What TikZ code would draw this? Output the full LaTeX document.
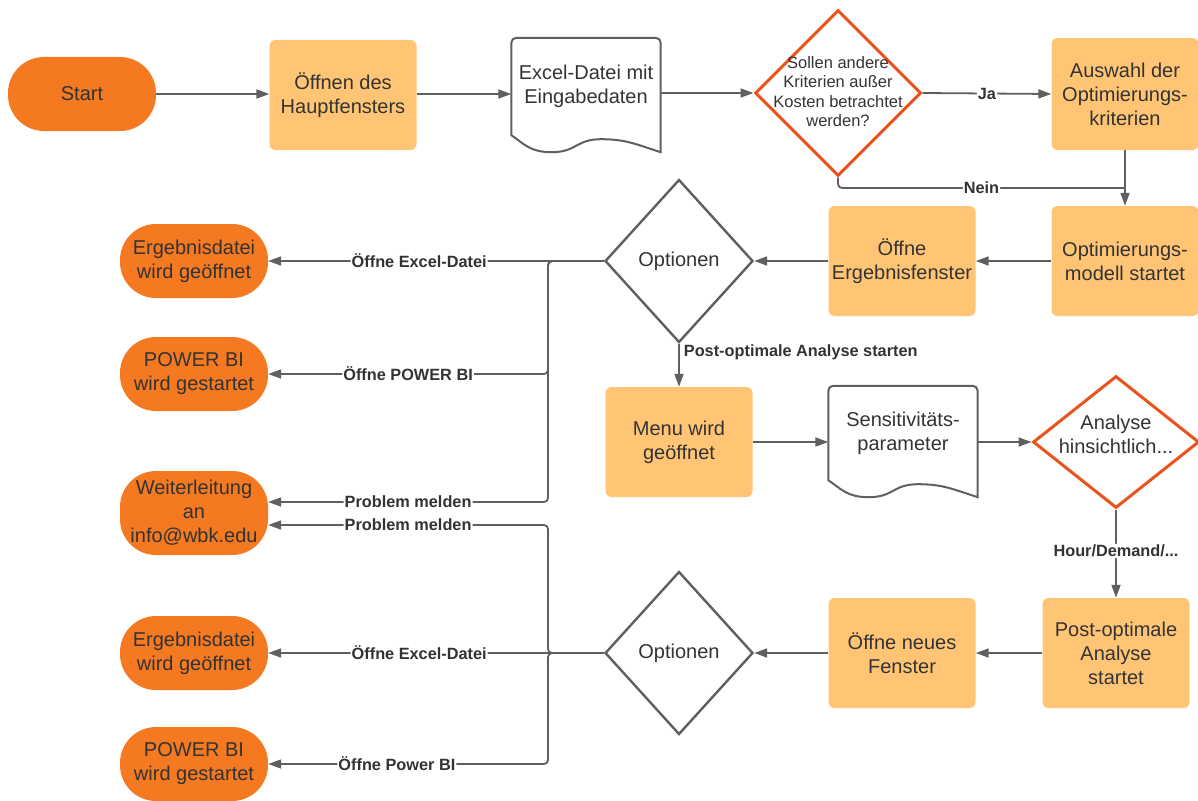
\documentclass[tikz,border=0pt]{standalone}
\usepackage{fontspec}
\setmainfont{Liberation Sans}
\usetikzlibrary{shapes.geometric,arrows.meta,calc}
\definecolor{pillfill}{RGB}{244,121,32}
\definecolor{boxfill}{RGB}{255,197,117}
\definecolor{askline}{RGB}{232,84,28}
\definecolor{lineg}{RGB}{95,95,95}
\definecolor{txt}{RGB}{51,51,51}
% text inside a diamond, smashed so that the diamond keeps its own size
\newcommand{\dtext}[2][0pt]{\smash{\raisebox{#1}{\begin{tabular}{@{}c@{}}#2\end{tabular}}}}
% outline of a document shape round a node
\newcommand{\docshape}[1]{%
  \draw[lineg,line width=2pt] (#1.south west) [rounded corners=5pt] -- (#1.north west) -- (#1.north east) [sharp corners]
    -- ([yshift=-17pt]#1.south east)
    .. controls ($(#1.south east)+(-25,9)$) and ($(#1.south west)!0.6!(#1.south east)+(25,4)$) .. ($(#1.south west)!0.6!(#1.south east)+(0,4)$)
    .. controls ($(#1.south west)!0.6!(#1.south east)+(-25,4)$) and ($(#1.south west)!0.27!(#1.south east)+(25,17)$) .. ($(#1.south west)!0.27!(#1.south east)+(0,17)$)
    .. controls ($(#1.south west)!0.27!(#1.south east)+(-22,17)$) and ($(#1.south west)+(12,8)$) .. (#1.south west) -- cycle;}

\begin{document}
\begin{tikzpicture}[x=1pt,y=-1pt,
  every node/.style={text=txt,font=\fontsize{20}{24}\selectfont,align=center},
  pill/.style={fill=pillfill,rounded corners=36pt,minimum width=148pt,minimum height=74pt,inner sep=0pt},
  box/.style={fill=boxfill,rounded corners=6pt,minimum width=147pt,minimum height=110pt,inner sep=0pt},
  doc/.style={minimum width=149pt,inner sep=0pt},
  opt/.style={diamond,draw=lineg,line width=2.4pt,minimum width=148pt,minimum height=163pt,inner sep=0pt},
  ask/.style={diamond,draw=askline,line width=3pt,inner sep=0pt},
  arr/.style={draw=lineg,line width=1.8pt,-{Triangle[length=13pt,width=9pt]},rounded corners=4pt},
  lbl/.style={fill=white,inner sep=1pt,font=\fontsize{16.3}{18}\selectfont\bfseries}]
  \useasboundingbox (0,0) rectangle (1198,800);

  % first row
  \node[pill] (start) at (82,94) {Start};
  \node[box] (haupt) at (343,95) {Öffnen des\\Hauptfensters};
  \node[doc,minimum height=97pt] (excel) at (586,86.5) {Excel-Datei mit\\Eingabedaten};
  \docshape{excel}
  \node[ask,minimum width=166pt,minimum height=166pt] (q1) at (838,93)
    {\fontsize{16.5}{19.5}\selectfont\dtext[-5pt]{Sollen andere\\Kriterien außer\\Kosten betrachtet\\werden?}};
  \node[box,minimum height=112pt] (auswahl) at (1125,94) {Auswahl der\\Optimierungs-\\kriterien};

  % second row
  \node[box] (model) at (1125,261) {Optimierungs-\\modell startet};
  \node[box] (ergf) at (902,261) {Öffne\\Ergebnisfenster};
  \node[opt] (opt1) at (679,261) {Optionen};
  \node[pill] (erg1) at (194,261) {Ergebnisdatei\\wird geöffnet};
  \node[pill] (pbi1) at (194,374) {POWER BI\\wird gestartet};
  \node[pill,minimum height=84pt] (weiter) at (194,513) {Weiterleitung\\an\\info@wbk.edu};

  % third row
  \node[box] (menu) at (679,442) {Menu wird\\geöffnet};
  \node[doc,minimum height=94pt] (sens) at (903,433) {Sensitivitäts-\\parameter};
  \docshape{sens}
  \node[ask,minimum width=166pt,minimum height=132pt] (ana) at (1116,442) {\dtext{Analyse\\hinsichtlich...}};

  % fourth row
  \node[box] (post) at (1116,653) {Post-optimale\\Analyse\\startet};
  \node[box] (neu) at (902,653) {Öffne neues\\Fenster};
  \node[opt] (opt2) at (679,653) {Optionen};
  \node[pill] (erg2) at (194,653) {Ergebnisdatei\\wird geöffnet};
  \node[pill] (pbi2) at (194,764) {POWER BI\\wird gestartet};

  \coordinate (nein) at (1125,188);
  \coordinate (j1) at (548,261);
  \coordinate (j2) at (548,653);

  % connectors
  \draw[arr] (start.east) -- (start.east -| haupt.west);
  \draw[arr] (haupt.east |- start) -- (start -| excel.west);
  \draw[arr] (excel.east |- q1) -- (q1.west);
  \draw[arr] (q1.east) -- node[lbl]{Ja} (auswahl.west);
  \draw[arr] (auswahl.south) -- (model.north);
  \draw[arr,-] (q1.south) |- node[lbl,pos=0.75]{Nein} (nein);
  \draw[arr] (model.west) -- (ergf.east);
  \draw[arr] (ergf.west) -- (opt1.east);
  \draw[arr] (opt1.west) -- node[lbl,pos=0.55]{Öffne Excel-Datei} (erg1.east);
  \draw[arr] (opt1.west) -- (j1) |- node[lbl,pos=0.75]{Öffne POWER BI} (pbi1.east);
  \draw[arr] (opt1.west) -- (j1) |- node[lbl,pos=0.75]{Problem melden} ([yshift=11pt]weiter.east);
  \draw[arr] (opt1.south) -- node[lbl,fill=none,anchor=west,pos=0.2,xshift=3pt]{Post-optimale Analyse starten} (menu.north);
  \draw[arr] (menu.east) -- (menu.east -| sens.west);
  \draw[arr] (sens.east |- ana) -- (ana.west);
  \draw[arr] (ana.south) -- node[lbl,pos=0.47]{Hour/Demand/...} (post.north);
  \draw[arr] (post.west) -- (neu.east);
  \draw[arr] (neu.west) -- (opt2.east);
  \draw[arr] (opt2.west) -- (j2) |- node[lbl,pos=0.75]{Problem melden} ([yshift=-12pt]weiter.east);
  \draw[arr] (opt2.west) -- node[lbl,pos=0.55]{Öffne Excel-Datei} (erg2.east);
  \draw[arr] (opt2.west) -- (j2) |- node[lbl,pos=0.77]{Öffne Power BI} (pbi2.east);
\end{tikzpicture}
\end{document}
